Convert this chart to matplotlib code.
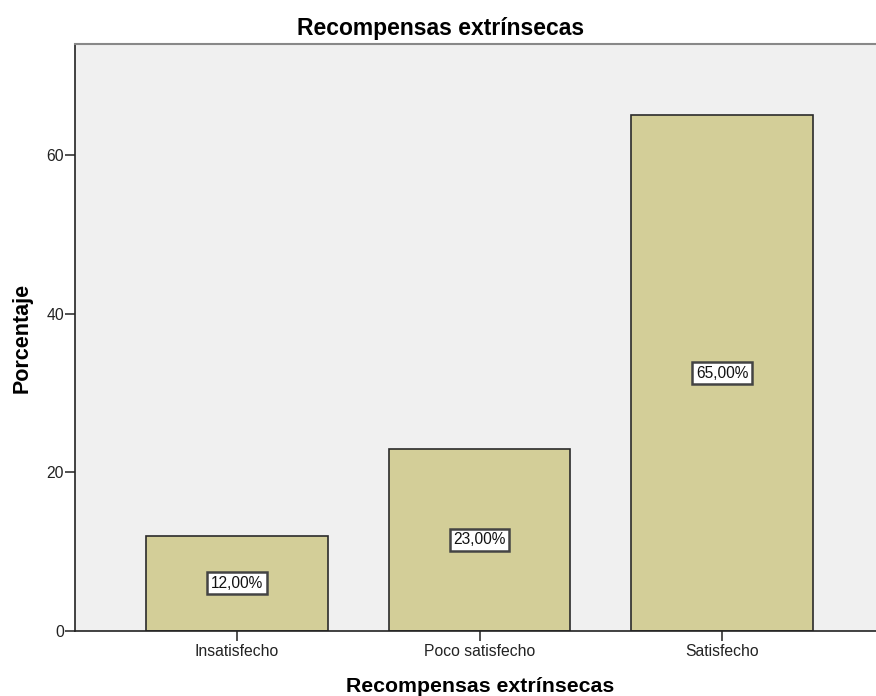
import matplotlib
matplotlib.use("Agg")
import matplotlib.pyplot as plt

categories = ["Insatisfecho", "Poco satisfecho", "Satisfecho"]
percentages = [12.0, 23.0, 65.0]

plt.rcParams['font.family'] = ['Liberation Sans', 'DejaVu Sans']

fig = plt.figure(figsize=(8.76, 6.96), dpi=100)
ax = fig.add_axes([75 / 876, 65 / 696, 801 / 876, 587 / 696])
ax.set_facecolor("#F0F0F0")

x = list(range(len(categories)))
ax.bar(x, percentages, width=0.75, color="#D3CE98", edgecolor="#2B2B2B", linewidth=1.2, zorder=2)

# value labels sit in the middle of each bar
for xi, v in zip(x, percentages):
    ax.text(xi, v / 2, ("%.2f%%" % v).replace(".", ","), ha="center", va="center",
            fontsize=11.2, color="#111111", zorder=3,
            bbox=dict(boxstyle="square,pad=0.22", facecolor="white", edgecolor="#444444", linewidth=1.8))

ax.set_xlim(-0.668, 2.635)
ax.set_ylim(0, 74)
ax.set_yticks([0, 20, 40, 60])
ax.set_xticks(x)
ax.set_xticklabels(categories)
ax.tick_params(axis="both", labelsize=11.3, colors="#222222", length=7, width=1.1)
ax.tick_params(axis="x", pad=2.5)
ax.tick_params(axis="y", pad=1)

ax.spines["right"].set_visible(False)
ax.spines["top"].set_color("#888888")
ax.spines["top"].set_linewidth(1.5)
ax.spines["left"].set_color("#222222")
ax.spines["bottom"].set_color("#222222")
ax.spines["left"].set_linewidth(1.2)
ax.spines["bottom"].set_linewidth(1.2)

ax.set_xlabel("Recompensas extrínsecas", fontsize=15.3, fontweight="bold", va="center")
ax.xaxis.set_label_coords((480 - 75) / 801, (631 - 686) / 587)
ax.set_ylabel("Porcentaje", fontsize=15.5, fontweight="bold", va="center")
ax.yaxis.set_label_coords((22 - 75) / 801, (631 - 338) / 587)
fig.text(441 / 876, 1 - 28 / 696, "Recompensas extrínsecas", ha="center", va="center",
         fontsize=16.5, fontweight="bold")

fig.savefig("out.png", dpi=100)
